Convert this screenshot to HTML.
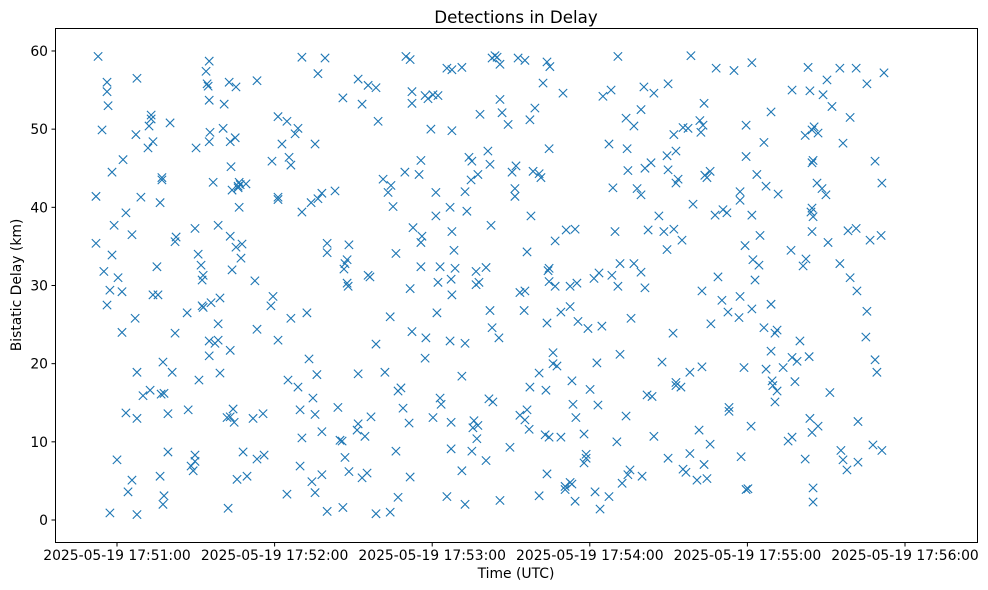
<!DOCTYPE html>
<html><head><meta charset="utf-8"><style>
html,body{margin:0;padding:0;background:#fff;}
svg{display:block;font-family:"DejaVu Sans","Liberation Sans",sans-serif;}
</style></head><body>
<svg id="chart" width="988" height="590" viewBox="0 0 988 590" xmlns="http://www.w3.org/2000/svg">
<rect width="988" height="590" fill="#fff"/>
<text x="516" y="23" font-size="16.7" text-anchor="middle" fill="#000">Detections in Delay</text>
<text x="516" y="578" font-size="13.9" text-anchor="middle" fill="#000">Time (UTC)</text>
<text transform="translate(21,285) rotate(-90)" font-size="13.9" text-anchor="middle" fill="#000">Bistatic Delay (km)</text>
<g id="ticks"></g>
<g id="marks"></g>
<rect x="55.5" y="28.5" width="922" height="514" fill="none" stroke="#000" stroke-width="1"/>
</svg>
<script>
// seconds after 17:50:00 UTC
const detTimes = [52.8,52.0,52.0,54.3,55,56.2,56.2,56.6,57.3,56.2,58.1,58.1,58.9,60,60.4,57.3,61.9,61.9,62.3,63.4,63.4,64.2,65.7,65.7,66.9,67.2,67.6,67.6,67.6,67.6,69.1,69.9,71.8,72.2,73,73,72.6,73.7,73.7,75.2,75.6,76.4,77.1,77.1,77.5,76.8,77.9,77.9,77.5,76.4,79.4,79.4,80.2,81,82.1,82.1,82.5,86.7,87.1,88.2,89,89.7,89.7,89.7,90.1,90.9,91.2,92,92.4,92.4,92.8,92.8,93.9,94.3,94.7,95.1,95.1,95.1,95.1,95.4,95.1,95.8,96.6,97.3,98.5,98.5,99.2,98.5,99.2,100.4,100.8,101.9,102.3,102.7,103.1,103.1,103.1,103.1,103.8,104.6,103.4,103.8,104.2,105,105.3,105.3,105.7,106.1,106.1,106.5,106.5,106.9,107.2,107.6,108,109.1,109.5,
111.8,115.6,113.3,116,113.3,112.5,113.3,118.6,119.4,119,121.3,121.3,121.3,121.3,122.8,124.7,125.1,124.7,126.2,126.2,125.5,127.8,128.9,128.9,129.7,129.7,130.4,130.4,130.4,132.3,133.1,134.6,134.2,135.4,135.4,133.9,136.5,138,135.4,136.5,136.1,138,138,140,139.2,140,140,143,146,144.9,145.7,146,144.1,146.8,146.4,146.8,147.6,147.6,148,148.3,148.3,151.8,151.4,151.8,151.8,153.3,155.6,154.4,153.3,155.2,155.6,156.3,156.7,158.6,158.6,158.6,159.4,161.3,162,163.2,164,164,164.3,165.1,166.2,166.2,167,168.9,168.1,167,169.6,170,171.6,171.6,172.3,172.3,172.3,171.6,171.2,172.7,
175,175.7,175.7,176.1,175.7,177.3,177.6,177.3,178.4,180.3,182.2,179.5,181.4,181.4,182.2,181.8,183,183.4,180.3,183,185.6,187.5,187.5,186.8,187.5,188.3,188.7,187.2,187.5,186.8,187.2,187.2,185.6,191.3,192.5,193.2,192.5,194,195.1,194.8,197.4,198.2,191.3,191.3,192.5,195.1,197,195.9,197.4,195.5,196.7,197.8,196.7,200.5,200.5,201.6,203.1,202,202.8,202.4,202,201.2,202.8,203.9,205.8,204.7,206.6,205.8,205.4,205.8,209.6,210.4,211.9,211.5,211.5,208.9,212.7,215.3,213.4,215.3,215,213.4,216.1,215.3,216.9,217.2,216.1,217.6,217.2,219.1,218.4,220.7,221.4,220.7,223.7,220.7,223,224.5,223.3,226,226,227.5,223.7,224.1,224.5,226.8,224.5,224.5,222.2,223.7,224.8,229.8,226.8,231,234.4,229,232.5,235.1,232.5,235.5,239.3,233.2,233.6,234.7,237.8,229,230.6,232.5,230.6,234.4,233.2,237.8,238.6,238.6,240.1,241.6,243.5,242.7,243.1,242,243.9,247.3,244.6,245,248.1,247.3,248.8,249.6,248.4,251.5,250.7,251.5,250.3,252.3,254.5,250.7,253.8,256.8,254.2,254.5,256.8,259.5,255.7,253.8,255.3,258,259.5,260.6,259.5,261,263.3,262.2,261,261.8,263.7,264.4,259.9,264.4,268.2,266.3,269.4,267.5,269.4,269.8,269.8,272,272.8,272.8,273.6,272,271.7,272.8,272.8,269.8,274.7,275.1,275.5,276.6,278.1,278.1,275.5,277.4,278.5,279.3,282.7,281.6,280.8,283.5,284.6,285.8,286.1,282.7,283.8,285.8,284.6,281.9,282.3,283.1,283.5,288.1,287.7,288.8,290.3,292.6,293,293,290.7,292.2,294.9,297.2,297.2,297.2,296.8,297.6,300.2,299.5,298.7,299.1,299.5,299.5,301.7,301.7,302.1,301.7,301.4,304.4,303.6,306.3,307.1,304.8,302.9,306.3,309,307.1,311.3,309,309,310.5,311.3,310.5,309.7,309.4,311.7,313.6,315.5,317,317,316.6,317,318.1,318.9,320,321.2,322.3,322,324.6,323.1,323.8,325,324.6,324.6,325,324.2,324.6,323.5,323.8,324.6,326.9,322,325,325,325.4,326.9,326.5,328.4,329.9,328.8,330.3,330.7,332.2,331.4,335.2,336.4,335.2,339.1,341.7,338.3,341.4,339.1,335.6,336.4,342.1,337.9,342.1,341.4,345.5,346.7,345.5,345.1,347.8,348.6,349.3,348.6,350.9,351.2,352,351.2];
const detDelays = [59.3,41.4,35.4,49.9,31.8,56,54.8,53,29.4,27.5,33.9,44.5,37.7,7.7,31,0.9,29.2,24,46.1,39.3,13.7,3.6,5.1,36.5,25.8,49.3,56.5,18.9,13,0.7,41.3,15.9,47.6,50.4,51.8,51.3,16.6,28.8,48.4,32.4,28.8,40.6,43.8,43.5,20.2,16.1,16.2,3.1,2.0,5.6,8.7,13.6,50.8,18.9,35.6,23.9,36.2,26.5,14.1,6.9,6.3,7.5,8.3,37.3,47.6,34,17.9,32.6,27.4,30.7,31.3,27.2,57.4,55.8,55.5,58.7,53.7,48.4,21,49.6,22.9,27.8,43.2,22.6,23,37.7,18.8,25.1,28.4,50.1,53.2,13.1,1.5,56,36.3,21.7,48.4,13.2,32,12.5,45.2,42.2,14.2,48.9,55.4,34.9,5.2,42.7,42.5,40,43.2,42.9,33.5,35.3,8.7,43,5.6,
13.0,13.6,7.8,8.3,24.4,30.6,56.2,27.4,28.6,45.9,51.6,41.3,41,23,48.1,51,17.9,3.3,25.8,45.4,46.4,49.4,50.1,17,14.1,6.9,10.5,39.4,59.2,26.5,20.6,15.6,4.9,13.5,3.5,40.6,41.1,41.8,48.1,57.1,18.6,11.3,5.8,1.1,59.1,35.4,34.2,42.1,54,10.2,10.1,1.6,14.4,8,32.1,32.8,33.3,30.3,29.9,35.2,6.2,12.3,11.5,18.7,56.4,53.2,55.6,10.7,5.4,6,31.3,31.1,13.2,0.8,22.5,55.3,51,43.6,18.9,41.9,26,1,42.8,40.1,34.1,8.8,2.9,14.3,16.9,16.5,44.5,59.3,58.9,29.6,54.8,53.3,24.1,5.5,12.4,37.4,
44.2,46,35.5,36.3,32.4,20.7,23.3,54.3,53.9,54.4,54.3,50,41.9,38.9,30.4,26.5,15.6,14.8,13.1,32.4,57.8,57.6,49.8,40,36.9,34.5,32.2,30.8,28.8,22.9,12.5,9.1,3,18.4,22.6,39.5,42,46.4,45.9,43.5,44.2,51.9,57.9,6.3,2,8.8,10.4,12.7,12.1,11.8,30.1,30.4,31.8,32.3,7.6,15.5,15.1,26.8,24.6,37.7,45.5,47.2,59.1,59.4,58.3,59.2,52.1,53.8,23.3,2.5,9.3,44.5,45.3,41.4,42.4,50.6,59.1,58.8,29.1,29.3,26.8,13.4,14.1,12.8,11.6,17,34.3,38.9,51.2,52.7,44.6,44.3,43.8,18.8,5.9,3.1,10.9,10.6,16.6,21.4,20,19.7,25.2,31.9,30.5,29.9,32.2,47.5,55.9,58.6,58,54.6,35.7,37.1,37.2,26.6,27.3,30.3,29.9,25.4,24.5,17.8,14.8,13.1,11,10.6,4.3,4.8,3.9,2.4,4.6,7.3,7.9,8.4,16.7,30.9,31.6,20.1,14.7,3.6,1.4,3,24.8,54.2,55,48.1,42.5,36.9,31.3,32.8,29.9,21.2,10,4.7,5.8,59.3,51.4,50.4,47.5,44.7,32.8,31.7,25.8,13.3,6.4,42.4,41.6,55.4,52.5,45,45.7,37.1,29.7,16,15.8,10.7,5.6,54.6,36.9,38.9,34.6,20.2,46.6,44.8,55.8,49.3,47.2,43.1,43.6,37.2,23.9,17.2,17.6,7.9,17,35.8,6.5,6.1,8.5,18.9,50.2,50.1,59.4,40.4,19.6,11.5,5.1,7.1,5.3,9.7,25.1,29.3,44.1,44.6,43.8,51.1,49.6,50.5,53.3,57.8,39,31.1,28.1,26.6,13.9,14.4,39.7,39.3,57.5,42,40.9,28.6,25.9,8.1,4,3.9,19.5,35.1,46.5,50.5,58.5,39,33.3,27,12,32.6,44.2,48.3,42.7,36.4,30.7,24.6,21.6,19.3,16.5,27.6,52.2,23.9,24.3,15.1,17.2,17.8,41.7,19.5,10.1,10.6,55,34.5,20.8,17.7,20.3,22.9,32.5,33.4,49.2,49.9,57.9,54.9,46,45.7,39.9,38.8,39.4,36.9,20.9,13,11.2,12,7.8,4.1,2.3,50.3,49.5,43.1,42.4,41.6,54.4,56.3,35.5,52.9,16.3,57.8,48.2,32.8,31,29.3,37,37.3,51.5,8.9,7.7,7.4,6.4,12.6,57.8,55.8,35.8,26.7,23.4,9.6,20.5,18.9,45.9,36.4,43.1,57.2,8.9];
const xTickSecs = [60,120,180,240,300,360];
const xTickLabels = ["2025-05-19 17:51:00","2025-05-19 17:52:00","2025-05-19 17:53:00","2025-05-19 17:54:00","2025-05-19 17:55:00","2025-05-19 17:56:00"];
const yTickVals = [0,10,20,30,40,50,60];

const NS = "http://www.w3.org/2000/svg";
function xScale(s){ return 117 + (s - 60) * (157.6 / 60); }
function yScale(v){ return 520 - v * 7.817; }

const tg = document.getElementById('ticks');
xTickSecs.forEach((s, i) => {
  const x = xScale(s);
  const l = document.createElementNS(NS, 'line');
  l.setAttribute('x1', x); l.setAttribute('x2', x);
  l.setAttribute('y1', 543); l.setAttribute('y2', 546.5);
  l.setAttribute('stroke', '#000');
  
  
  tg.appendChild(l);
  const t = document.createElementNS(NS, 'text');
  t.setAttribute('x', x); t.setAttribute('y', 560);
  t.setAttribute('font-size', '13.9');
  t.setAttribute('text-anchor', 'middle');
  t.textContent = xTickLabels[i];
  
  
  tg.appendChild(t);
});
yTickVals.forEach(v => {
  const y = yScale(v);
  const l = document.createElementNS(NS, 'line');
  l.setAttribute('x1', 51.5); l.setAttribute('x2', 55);
  l.setAttribute('y1', y); l.setAttribute('y2', y);
  l.setAttribute('stroke', '#000');
  
  
  tg.appendChild(l);
  const t = document.createElementNS(NS, 'text');
  t.setAttribute('x', 48); t.setAttribute('y', y + 5);
  t.setAttribute('font-size', '13.9');
  t.setAttribute('text-anchor', 'end');
  t.textContent = String(v);
  
  
  tg.appendChild(t);
});

const mg = document.getElementById('marks');
const n = Math.min(detTimes.length, detDelays.length);
for (let i = 0; i < n; i++) {
  const cx = xScale(detTimes[i]), cy = yScale(detDelays[i]), r = 4.2;
  const p = document.createElementNS(NS, 'path');
  p.setAttribute('d', `M${cx-r},${cy-r}L${cx+r},${cy+r}M${cx-r},${cy+r}L${cx+r},${cy-r}`);
  p.setAttribute('stroke', '#1f77b4');
  p.setAttribute('stroke-width', '1.1');
  p.setAttribute('fill', 'none');
  
  
  mg.appendChild(p);
}
</script>
</body></html>
